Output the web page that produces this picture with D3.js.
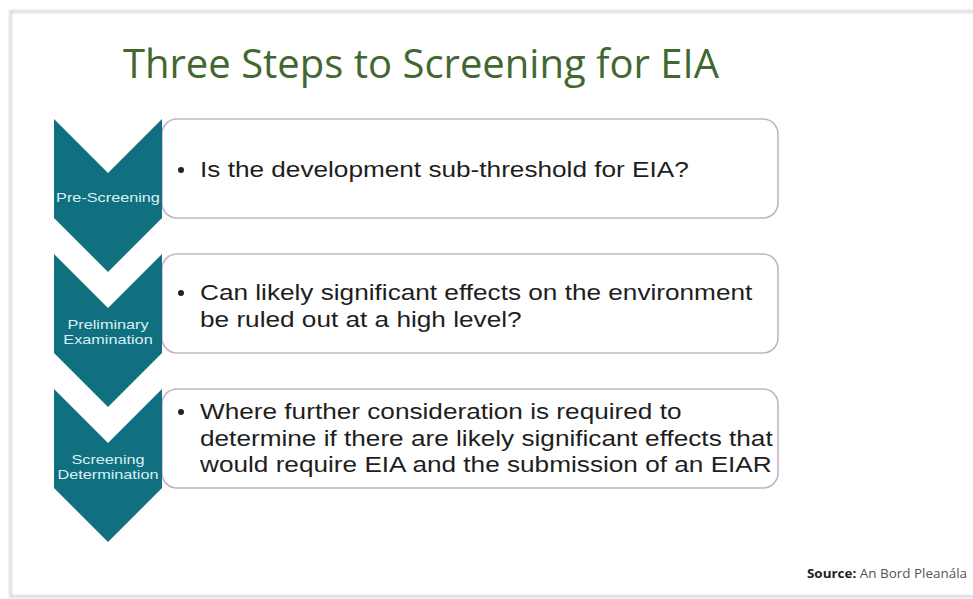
<!DOCTYPE html>
<html>
<head>
<meta charset="utf-8">
<script src="https://cdn.jsdelivr.net/npm/d3@7"></script>
<style>
  html, body { margin: 0; padding: 0; background: #fff; }
  svg { display: block; }
</style>
</head>
<body>
<script>
const title = 'Three Steps to Screening for EIA'
const stepLabels = [['Pre-Screening'], ['Preliminary', 'Examination'], ['Screening', 'Determination']]
const stepText = [
  ['Is the development sub-threshold for EIA?'],
  ['Can likely significant effects on the environment', 'be ruled out at a high level?'],
  ['Where further consideration is required to', 'determine if there are likely significant effects that', 'would require EIA and the submission of an EIAR']
]
const sourceLabel = 'Source:'
const sourceText = 'An Bord Pleanála'

const width = 973
const height = 599

const teal = '#10707f'
const green = '#42672f'

const svg = d3.select('body').append('svg')
    .attr('width', width)
    .attr('height', height)

const defs = svg.append('defs')
defs.append('filter').attr('id', 'soft')
    .attr('x', '-5%').attr('y', '-5%').attr('width', '110%').attr('height', '110%')
  .append('feGaussianBlur').attr('stdDeviation', 1.2)

// slide edge
svg.append('rect')
    .attr('x', 10.5).attr('y', 11.5)
    .attr('width', width + 20).attr('height', 585)
    .attr('fill', 'none')
    .attr('stroke', '#cccccc')
    .attr('stroke-width', 2)
    .attr('filter', 'url(#soft)')

svg.append('text')
    .attr('x', 421)
    .attr('y', 78)
    .attr('text-anchor', 'middle')
    .style('font-family', '"Open Sans", sans-serif')
    .style('font-size', '40px')
    .attr('fill', green)
    .text(title)

const y = d3.scaleLinear()
    .domain([0, stepLabels.length - 1])
    .range([119, 389])

const chevX = 54, chevW = 108, notch = 54, sideH = 99
const boxX = 162, boxW = 616, boxH = 99

const steps = svg.selectAll('.step')
    .data(stepLabels.map((lab, i) => ({ lab, txt: stepText[i], i })))
  .enter().append('g')
    .attr('class', 'step')
    .attr('transform', d => `translate(0,${y(d.i)})`)

steps.append('rect')
    .attr('x', boxX)
    .attr('y', 0)
    .attr('width', boxW)
    .attr('height', boxH)
    .attr('rx', 15)
    .attr('fill', '#fff')
    .attr('stroke', '#c4b3c6')
    .attr('stroke-width', 1.6)

steps.append('path')
    .attr('d', () => {
      const p = d3.path()
      p.moveTo(chevX, 0)
      p.lineTo(chevX + chevW / 2, notch)
      p.lineTo(chevX + chevW, 0)
      p.lineTo(chevX + chevW, sideH)
      p.lineTo(chevX + chevW / 2, sideH + notch)
      p.lineTo(chevX, sideH)
      p.closePath()
      return p.toString()
    })
    .attr('fill', teal)

steps.each(function(d) {
  const g = d3.select(this)
  const n = d.lab.length
  d.lab.forEach((t, k) => {
    const ly = 82.5 + (k - (n - 1) / 2) * 15
    g.append('text')
      .attr('transform', `translate(${chevX + chevW / 2},${ly}) scale(1.25,1)`)
      .attr('text-anchor', 'middle')
      .style('font-family', '"Liberation Sans", Arial, sans-serif')
      .style('font-size', '13px')
      .attr('fill', '#d8f0f4')
      .text(t)
  })
  const m = d.txt.length
  const top = m === 1 ? 58 : (m === 2 ? 46 : 30)
  g.append('circle')
    .attr('cx', 181)
    .attr('cy', top - 7)
    .attr('r', 3)
    .attr('fill', '#222')
  d.txt.forEach((t, k) => {
    g.append('text')
      .attr('transform', `translate(200,${top + k * 26.5}) scale(1.19,1)`)
      .style('font-family', '"Liberation Sans", Arial, sans-serif')
      .style('font-size', '22px')
      .attr('fill', '#1e1e1e')
      .text(t)
  })
})

const src = svg.append('text')
    .attr('transform', 'translate(967,578) scale(1.12,1)')
    .attr('text-anchor', 'end')
    .style('font-family', '"Open Sans", sans-serif')
    .style('font-size', '12px')
src.append('tspan').attr('font-weight', 'bold').attr('fill', '#222').text(sourceLabel)
src.append('tspan').attr('fill', '#555').text(' ' + sourceText)
</script>
</body>
</html>
